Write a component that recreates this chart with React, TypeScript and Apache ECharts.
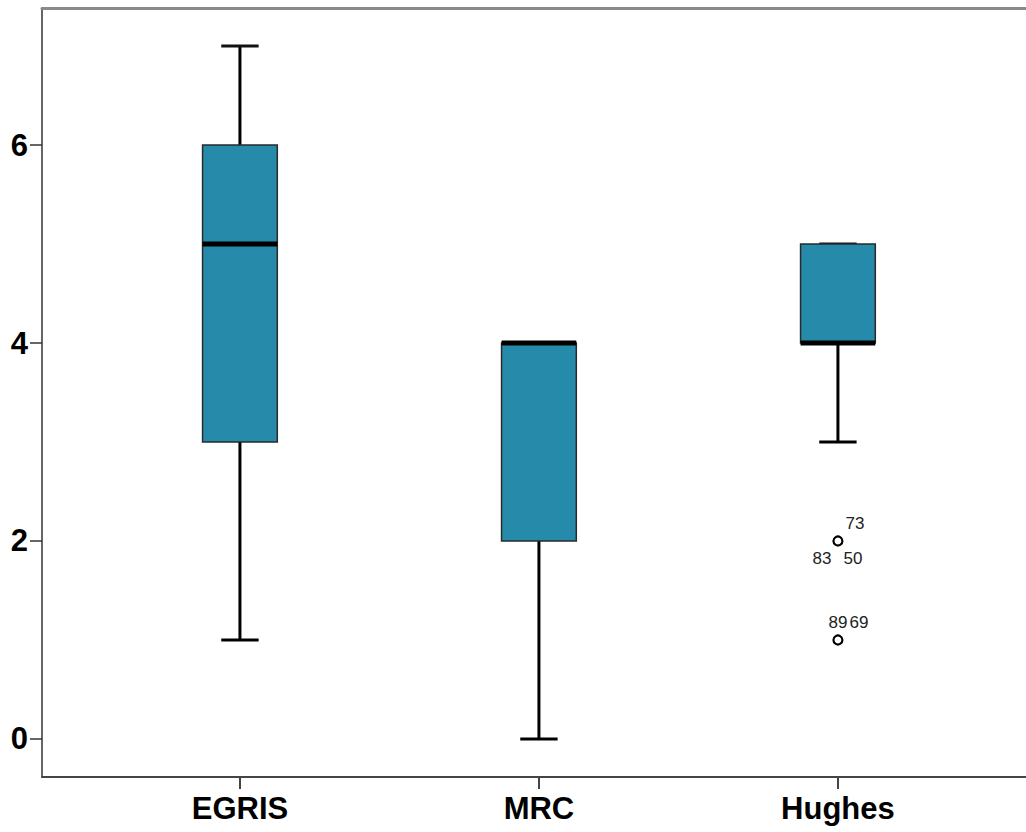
import React, { useEffect, useRef } from 'react';
import * as echarts from 'echarts';

const categories = ['EGRIS', 'MRC', 'Hughes'];
const whiskerLow = [1, 0, 3];
const quartile1 = [3, 2, 4];
const medians = [5, 4, 4];
const quartile3 = [6, 4, 5];
const whiskerHigh = [7, 4, 5];
const outlierGroup = [3, 3];
const outlierValues = [2, 1];
const outlierIds = [['73', '83', '50'], ['89', '69']];
const yTicks = [0, 2, 4, 6];
const xTicks = [1, 2, 3];

// label offsets (styling) for outlier case numbers
const outlierLabelOffsets = [
  [[17, -17], [-16, 18], [15, 18]],
  [[0, -17], [21, -17]],
];

const FONT = '"Liberation Sans", Arial, sans-serif';

export default function App() {
  const ref = useRef<HTMLDivElement>(null);
  useEffect(() => {
    if (!ref.current) return;
    const chart = echarts.init(ref.current, undefined, { renderer: 'svg' });
    const boxData = categories.map((c, i) => [
      i + 1,
      whiskerLow[i],
      quartile1[i],
      medians[i],
      quartile3[i],
      whiskerHigh[i],
    ]);
    const outData = outlierValues.map((v, i) => [outlierGroup[i], v, i]);
    const xMin = 0.338;
    const xMax = 3.629;
    chart.setOption({
      animation: false,
      grid: { left: 42, right: 0, top: 8, bottom: 55 },
      xAxis: [
        {
          type: 'value',
          min: xMin,
          max: xMax,
          position: 'bottom',
          axisLine: { show: true, onZero: false, lineStyle: { color: '#444', width: 2 } },
          axisTick: { show: true, customValues: xTicks, length: 12, lineStyle: { color: '#444', width: 2 } },
          axisLabel: {
            customValues: xTicks,
            formatter: (v: number) => categories[Math.round(v) - 1] ?? '',
            fontSize: 31,
            fontWeight: 'bold',
            fontFamily: FONT,
            color: '#000',
            margin: 16,
          },
          splitLine: { show: false },
        },
        {
          type: 'value',
          min: xMin,
          max: xMax,
          position: 'top',
          axisLine: { show: true, onZero: false, lineStyle: { color: '#8a8a8a', width: 3 } },
          axisTick: { show: false },
          axisLabel: { show: false },
          splitLine: { show: false },
        },
      ],
      yAxis: {
        type: 'value',
        min: -0.384,
        max: 7.384,
        axisLine: { show: true, onZero: false, lineStyle: { color: '#333', width: 1.5 } },
        axisTick: { show: true, customValues: yTicks, length: 12, lineStyle: { color: '#333', width: 1.5 } },
        axisLabel: {
          customValues: yTicks,
          fontSize: 31,
          fontWeight: 'bold',
          fontFamily: FONT,
          color: '#000',
          margin: 14,
        },
        splitLine: { show: false },
      },
      series: [
        {
          type: 'custom',
          xAxisIndex: 0,
          data: boxData,
          encode: { x: 0, y: [1, 2, 3, 4, 5] },
          renderItem: (params: any, api: any) => {
            const x = api.value(0);
            const pLo = api.coord([x, api.value(1)]);
            const pQ1 = api.coord([x, api.value(2)]);
            const pMed = api.coord([x, api.value(3)]);
            const pQ3 = api.coord([x, api.value(4)]);
            const pHi = api.coord([x, api.value(5)]);
            const boxW = api.size([0.25, 0])[0];
            const capW = api.size([0.125, 0])[0];
            const cx = pLo[0];
            const line = (x1: number, y1: number, x2: number, y2: number, w: number, c = '#000') => ({
              type: 'line',
              shape: { x1, y1, x2, y2 },
              style: { stroke: c, lineWidth: w },
            });
            return {
              type: 'group',
              children: [
                line(cx, pQ3[1], cx, pHi[1], 3),
                line(cx, pQ1[1], cx, pLo[1], 3),
                line(cx - capW / 2, pHi[1], cx + capW / 2, pHi[1], 3, '#111'),
                line(cx - capW / 2, pLo[1], cx + capW / 2, pLo[1], 3),
                {
                  type: 'rect',
                  shape: { x: cx - boxW / 2, y: pQ3[1], width: boxW, height: pQ1[1] - pQ3[1] },
                  style: { fill: '#268bab', stroke: '#2a2a2a', lineWidth: 1.5 },
                },
                line(cx - boxW / 2, pMed[1], cx + boxW / 2, pMed[1], 5),
              ],
            };
          },
          z: 2,
        },
        {
          type: 'custom',
          xAxisIndex: 0,
          data: outData,
          encode: { x: 0, y: 1 },
          renderItem: (params: any, api: any) => {
            const p = api.coord([api.value(0), api.value(1)]);
            const idx = api.value(2);
            const ids = outlierIds[idx];
            const offs = outlierLabelOffsets[idx];
            return {
              type: 'group',
              children: [
                {
                  type: 'circle',
                  shape: { cx: p[0], cy: p[1], r: 4.5 },
                  style: { fill: '#fff', stroke: '#000', lineWidth: 2.2 },
                },
                ...ids.map((t, k) => ({
                  type: 'text',
                  x: p[0] + offs[k][0],
                  y: p[1] + offs[k][1],
                  style: {
                    text: t,
                    fill: '#222',
                    fontSize: 17,
                    fontFamily: FONT,
                    align: 'center',
                    verticalAlign: 'middle',
                  },
                })),
              ],
            };
          },
          z: 3,
        },
      ],
    });
    return () => chart.dispose();
  }, []);
  return (
    <div
      ref={ref}
      style={{ position: 'absolute', left: 0, top: 0, width: 1026, height: 832, background: '#fff' }}
    />
  );
}
